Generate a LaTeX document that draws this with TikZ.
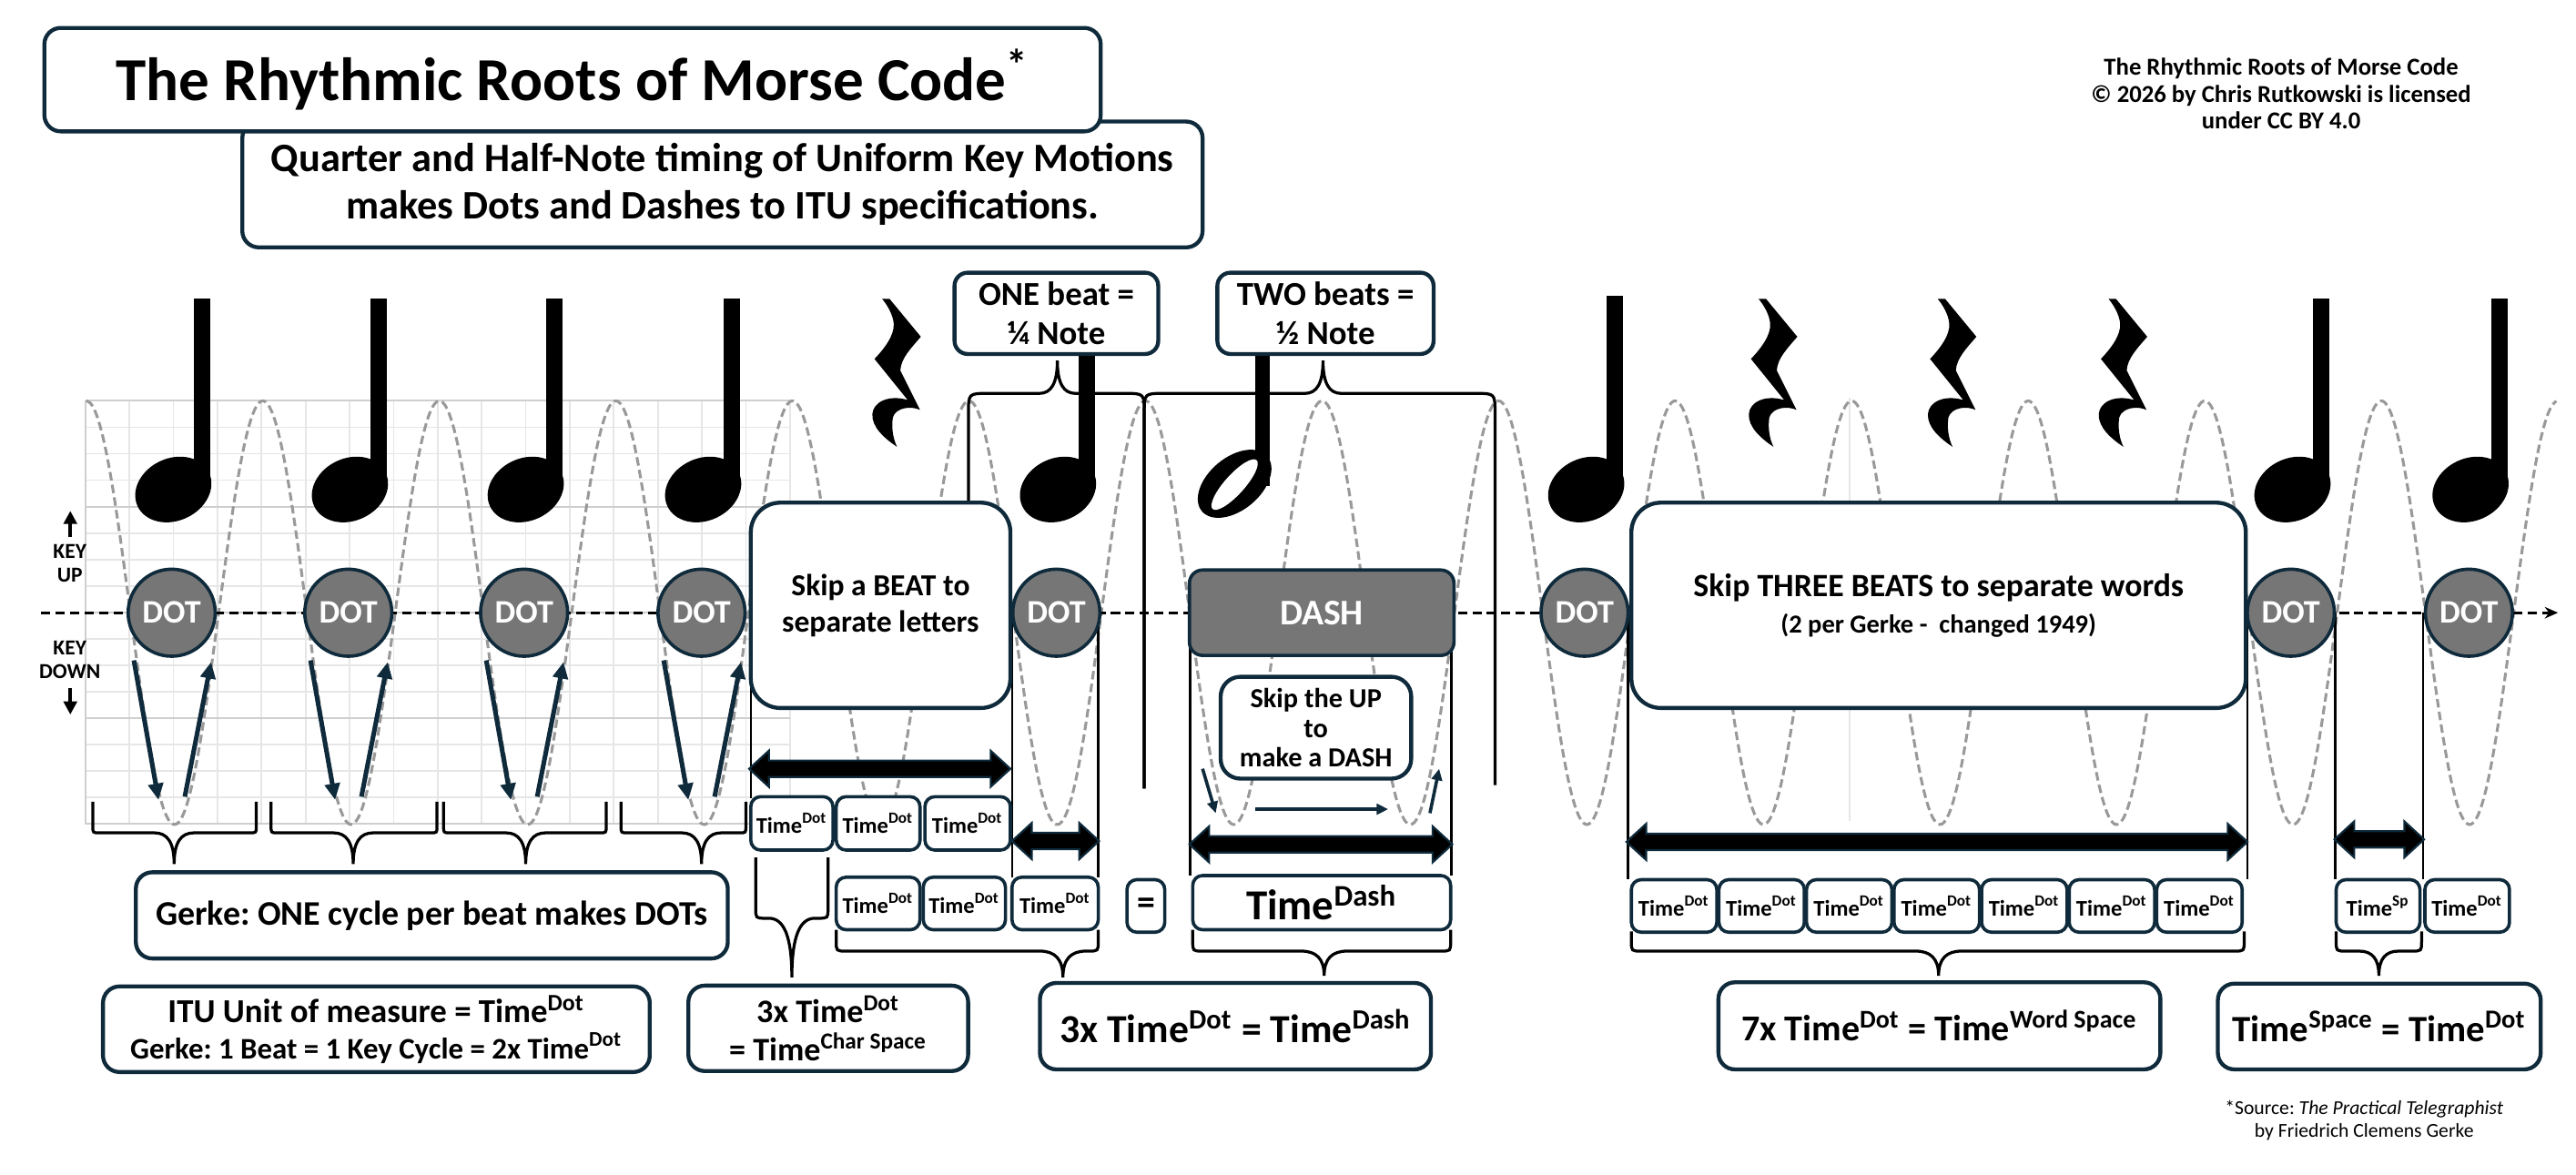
\documentclass[tikz,border=0pt]{standalone}
\usepackage{fontspec}
\setmainfont{Carlito}
\usetikzlibrary{arrows.meta}
\frenchspacing
\definecolor{navy}{HTML}{0E2A3B}
\definecolor{dotgray}{HTML}{767676}
\definecolor{wavegray}{HTML}{999999}
\definecolor{gridc}{HTML}{E6E6E6}
\definecolor{gridd}{HTML}{CFCFCF}
\newcommand\fsz[2]{\fontsize{#1}{#2}\selectfont}
\tikzset{
  every node/.style={font=\bfseries},
  bigbox/.style={draw=navy, fill=white, line width=1.2pt, rounded corners=9pt, align=center, inner sep=0pt},
  medbox/.style={draw=navy, fill=white, line width=1.2pt, rounded corners=5pt, align=center, inner sep=0pt},
  tbox/.style={draw=navy, fill=white, line width=1pt, rounded corners=3pt, align=center, inner sep=0pt, font=\bfseries\fsz{6.8}{8}},
  dotc/.style={circle, draw=navy, fill=dotgray, line width=1pt, minimum size=26.5pt, inner sep=0pt, text=white, font=\bfseries\fsz{10}{12}},
  dashbox/.style={draw=navy, fill=dotgray, line width=1pt, rounded corners=4pt, inner sep=0pt, text=white, font=\bfseries\fsz{11}{12}},
  wave/.style={draw=wavegray, line width=0.85pt, dash pattern=on 2.6pt off 1.3pt},
  cline/.style={draw=black, line width=0.9pt, dash pattern=on 2.8pt off 1.6pt},
  brc/.style={draw=black, line width=0.9pt},
  vln/.style={draw=black, line width=0.7pt},
  gridl/.style={draw=gridc, line width=0.5pt},
  gridm/.style={draw=gridd, line width=0.6pt},
  karr/.style={draw=navy, line width=1.4pt, -{Triangle[length=5pt,width=4.5pt]}},
  sarr/.style={draw=navy, line width=1pt, -{Triangle[length=3.5pt,width=3.2pt]}},
  darr/.style={fill=black, draw=navy, line width=0.6pt},
  plain/.style={inner sep=0pt, align=center},
}
% box node: name, style, x1, y1, x2, y2, text
\newcommand\bxn[7]{\node[#2, minimum width={(#5-#3)*0.5pt}, minimum height={(#6-#4)*0.5pt}] (#1) at ({(#3+#5)/2},{(#4+#6)/2}) {#7};}
% curly brace: xl, yl, xr, yr, xt, yh, ytip, r (signed), c
\newcommand\curly[9]{\draw[brc] (#1,#2) -- (#1,{#6-#8}) .. controls (#1,#6) .. ({#1+abs(#8)},#6) -- ({#5-#9},#6) .. controls ({#5-#9*0.35},#6) and (#5,{#6+(#7-#6)*0.3}) .. (#5,#7) .. controls (#5,{#6+(#7-#6)*0.3}) and ({#5+#9*0.35},#6) .. ({#5+#9},#6) -- ({#3-abs(#8)},#6) .. controls (#3,#6) .. (#3,{#6-#8}) -- (#3,#4);}
% thick double arrow: x1, x2, y
\newcommand\dbl[3]{\path[darr] (#1,#3) -- ({#1+12},{#3-11}) -- ({#1+12},{#3-5}) -- ({#2-12},{#3-5}) -- ({#2-12},{#3-11}) -- (#2,#3) -- ({#2-12},{#3+11}) -- ({#2-12},{#3+5}) -- ({#1+12},{#3+5}) -- ({#1+12},{#3+11}) -- cycle;}
% quarter note: dot x, stem top
\newcommand\qnote[2]{\fill[black] ({#1+13.5},298) rectangle ({#1+23.5},#2);
  \fill[black, rotate around={25:({#1+1},298)}] ({#1+1},298) ellipse [x radius=12pt, y radius=9.5pt];}
% quarter rest: top-left x, y
\newcommand\qrest[2]{\fill[black, shift={(#1,#2)}] (6.5,0) -- (11,0) -- (30,23) .. controls (24,30) and (18,36) .. (17.5,43.5) -- (29.5,67.5) .. controls (24,65) and (15,66) .. (13,72) .. controls (12,78) and (13,85) .. (15.5,90) .. controls (8,85) and (0,78) .. (0.5,70) .. controls (1,63) and (10,58) .. (22,61.5) -- (1.8,36.5) .. controls (8,30) and (14,22) .. (13.5,15) .. controls (13,9) and (9,3) .. (6.5,0) -- cycle;}
\begin{document}
\begin{tikzpicture}[x=0.5pt,y=-0.5pt]
\useasboundingbox (0,0) rectangle (1568,715);
\fill[white] (0,0) rectangle (1568,715);
% grid
\foreach \k in {0,...,16} \draw[gridl] ({52+26.8*\k},244) -- ({52+26.8*\k},502);
\foreach \k in {0,...,16} \draw[gridl] (52,{244+16.1*\k}) -- (481,{244+16.1*\k});
\foreach \k in {0,4,8,12,16} \draw[gridm] (52,{244+16.1*\k}) -- (481,{244+16.1*\k});
\draw[gridm] (52,244) -- (52,502);
\draw[gridc, line width=0.6pt] (1126,242) -- (1126,500);
% wave
\draw[wave] plot[domain=52.5:1556, samples=600, smooth] (\x,{373-129*cos(((\x-52.5)/107.46)*360)});
% centre line
\coordinate (cl0) at (25,373);
\coordinate (cl1) at (1557,373);
\draw[cline, -{Stealth[length=4pt,width=3.5pt]}] (cl0) -- (cl1);
% vertical lines
\draw[vln] (457,373) -- (457,486);
\draw[vln] (616,373) -- (616,534);
\draw[vln] (668.5,373) -- (668.5,534);
\draw[vln] (724.5,373) -- (724.5,533);
\draw[vln] (883.5,373) -- (883.5,533);
\draw[vln] (991,373) -- (991,535);
\draw[vln] (1368,373) -- (1368,535);
\draw[vln] (1421.5,373) -- (1421.5,535);
\draw[vln] (1475,373) -- (1475,535);
% braces
\curly{56.5}{488}{156}{488}{106}{507}{526}{4}{12}
\curly{165}{488}{266}{488}{215}{507}{526}{4}{12}
\curly{270}{488}{369}{488}{320}{507}{526}{4}{12}
\curly{378}{488}{454}{488}{427}{507}{526}{4}{12}
\curly{460}{522}{504}{522}{482}{559}{595}{6}{14}
\curly{509}{566}{668.5}{566}{647}{579}{595}{6}{14}
\curly{726}{566}{883}{566}{806}{579}{594}{6}{14}
\curly{993}{567}{1366}{567}{1180}{579}{594}{6}{14}
\curly{1422}{567}{1474}{567}{1448}{579}{594}{6}{12}
\curly{589.5}{310}{696.5}{480}{643.6}{239.5}{219.5}{-12}{11}
\curly{696.5}{480}{910}{478}{805.3}{239.5}{219.5}{-12}{11}
% notes
\qnote{104.5}{181.5}
\qnote{212}{181.5}
\qnote{319}{181.5}
\qnote{427}{181.5}
\qnote{643}{215}
\qnote{964.5}{180}
\qnote{1394.4}{182}
\qnote{1502.8}{182}
\fill[black] (764,296) rectangle (773,215);
\fill[black, rotate around={40:(751.5,294.5)}] (751.5,294.5) ellipse [x radius=13pt, y radius=8pt];
\fill[white, rotate around={48:(751.5,295)}] (751.5,295) ellipse [x radius=10pt, y radius=3pt];
% rests
\qrest{530.5}{182}
\qrest{1064}{182}
\qrest{1173}{182}
\qrest{1277}{182}
% title boxes
\bxn{sub}{medbox, rounded corners=5pt, font=\bfseries\fsz{12.3}{14.5}}{147.5}{74}{732}{150.6}{Quarter and Half-Note timing of Uniform Key Motions\\makes Dots and Dashes to ITU specifications.}
\bxn{title}{medbox, rounded corners=5pt, font=\bfseries\fsz{18.6}{22}}{27}{17}{670}{80}{The Rhythmic Roots of Morse Code\textsuperscript{*}}
\node[plain, font=\bfseries\fsz{7.4}{8.2}] (credit) at (1388.5,57) {The Rhythmic Roots of Morse Code\\\textcopyright{} 2026 by Chris Rutkowski is licensed\\under CC BY 4.0};
% top boxes
\bxn{onebeat}{medbox, rounded corners=4pt, font=\bfseries\fsz{10.2}{11.7}}{581}{166}{705}{215.5}{ONE beat =\\¼ Note}
\bxn{twobeats}{medbox, rounded corners=4pt, font=\bfseries\fsz{10.2}{11.7}}{741}{166}{872.6}{215.5}{TWO beats =\\½ Note}
% skip boxes
\bxn{skipbeat}{bigbox, font=\bfseries\fsz{9.3}{11}}{457}{306}{615}{431}{Skip a BEAT to\\separate letters}
\bxn{skipthree}{bigbox, font=\bfseries\fsz{9.9}{11}}{993}{306}{1367}{431}{Skip THREE BEATS to separate words\\{\fsz{7.9}{11}(2 per Gerke -\ \ changed 1949)}}
\bxn{skipup}{medbox, rounded corners=6pt, font=\bfseries\fsz{8.4}{9}}{743}{412}{859}{474}{Skip the UP\\to\\make a DASH}
% time boxes
\bxn{t1a}{tbox}{457}{485}{507}{517.5}{Time\textsuperscript{Dot}}
\bxn{t1b}{tbox}{509}{485}{560}{517.5}{Time\textsuperscript{Dot}}
\bxn{t1c}{tbox}{563}{485}{615}{517.5}{Time\textsuperscript{Dot}}
\bxn{t2a}{tbox}{509}{534}{560}{566}{Time\textsuperscript{Dot}}
\bxn{t2b}{tbox}{562}{534}{612}{566}{Time\textsuperscript{Dot}}
\bxn{t2c}{tbox}{616}{534}{668.5}{566}{Time\textsuperscript{Dot}}
\bxn{eqsign}{tbox, font=\bfseries\fsz{11}{12}}{686}{535.5}{709}{567.5}{=}
\bxn{tdash}{tbox, font=\bfseries\fsz{13}{14}}{726}{533}{883}{566}{Time\textsuperscript{Dash}}
\foreach \k [evaluate=\k as \xa using 993+53.3*(\k-1), evaluate=\k as \xb using 1045+53.3*(\k-1)] in {1,...,7} {\bxn{w\k}{tbox}{\xa}{535.5}{\xb}{567.5}{Time\textsuperscript{Dot}}}
\bxn{tsp}{tbox}{1422}{535.5}{1473}{567.5}{Time\textsuperscript{Sp}}
\bxn{tlast}{tbox}{1476}{535.5}{1527.5}{567.5}{Time\textsuperscript{Dot}}
% bottom boxes
\bxn{gerke}{medbox, font=\bfseries\fsz{10.5}{12}}{82.7}{531}{443}{583.5}{Gerke: ONE cycle per beat makes DOTs}
\bxn{itu}{medbox, font=\bfseries\fsz{10.2}{11}}{62.7}{600.5}{395.5}{652.6}{ITU Unit of measure = Time\textsuperscript{Dot}\\{\fsz{9.1}{11}Gerke: 1 Beat = 1 Key Cycle = 2x Time\textsuperscript{Dot}}}
\bxn{charsp}{medbox, font=\bfseries\fsz{10}{11.5}}{419}{600}{589.3}{652}{3x Time\textsuperscript{Dot}\\= Time\textsuperscript{Char Space}}
\bxn{dasheq}{medbox, font=\bfseries\fsz{12.1}{14}}{633}{598.4}{871}{651}{3x Time\textsuperscript{Dot} = Time\textsuperscript{Dash}}
\bxn{wordeq}{medbox, font=\bfseries\fsz{11.1}{13}}{1046}{598}{1315}{651}{7x Time\textsuperscript{Dot} = Time\textsuperscript{Word Space}}
\bxn{spaceeq}{medbox, font=\bfseries\fsz{11.3}{13}}{1350}{598.8}{1546.5}{651}{Time\textsuperscript{Space} = Time\textsuperscript{Dot}}
% DOTs and DASH
\foreach \n/\xx in {d1/104.5, d2/212, d3/319, d4/427, d5/643, d6/964.5, d7/1394.4, d8/1502.8} \node[dotc] (\n) at (\xx,373) {DOT};
\bxn{dash}{dashbox}{724}{347}{885}{399}{DASH}
% key motion arrows
\foreach \xx [count=\i] in {104.5,212,319,427} {
  \coordinate (dn\i a) at ({\xx-23},402);
  \coordinate (dn\i b) at ({\xx-8},487);
  \coordinate (up\i a) at ({\xx+8},485);
  \coordinate (up\i b) at ({\xx+24},403);
  \draw[karr] (dn\i a) -- (dn\i b);
  \draw[karr] (up\i a) -- (up\i b);
}
\coordinate (da1) at (732,468); \coordinate (da2) at (740,495);
\coordinate (db1) at (764,492.6); \coordinate (db2) at (845,492.6);
\coordinate (dc1) at (870.4,495); \coordinate (dc2) at (876,468);
\draw[sarr] (da1) -- (da2);
\draw[sarr] (db1) -- (db2);
\draw[sarr] (dc1) -- (dc2);
% thick double arrows
\dbl{456}{615}{468}
\dbl{616}{669}{512}
\dbl{724}{884}{514}
\dbl{990}{1368}{512.5}
\dbl{1421}{1475.5}{511}
% key labels
\node[plain, font=\bfseries\fsz{6.5}{7.2}] (keyup) at (42.5,343) {KEY\\UP};
\node[plain, font=\bfseries\fsz{6.5}{7.2}] (keydown) at (42.5,401.5) {KEY\\DOWN};
\coordinate (ka1) at (42.8,327); \coordinate (ka2) at (42.8,311);
\coordinate (kb1) at (42.8,419); \coordinate (kb2) at (42.8,435);
\draw[draw=black, line width=1.2pt, -{Triangle[length=4pt,width=4pt]}] (ka1) -- (ka2);
\draw[draw=black, line width=1.2pt, -{Triangle[length=4pt,width=4pt]}] (kb1) -- (kb2);
% source note
\node[plain, font=\mdseries\fsz{6}{7}] (src) at (1439,682) {*Source: \textit{The Practical Telegraphist}\\by Friedrich Clemens Gerke};
\end{tikzpicture}
\end{document}
